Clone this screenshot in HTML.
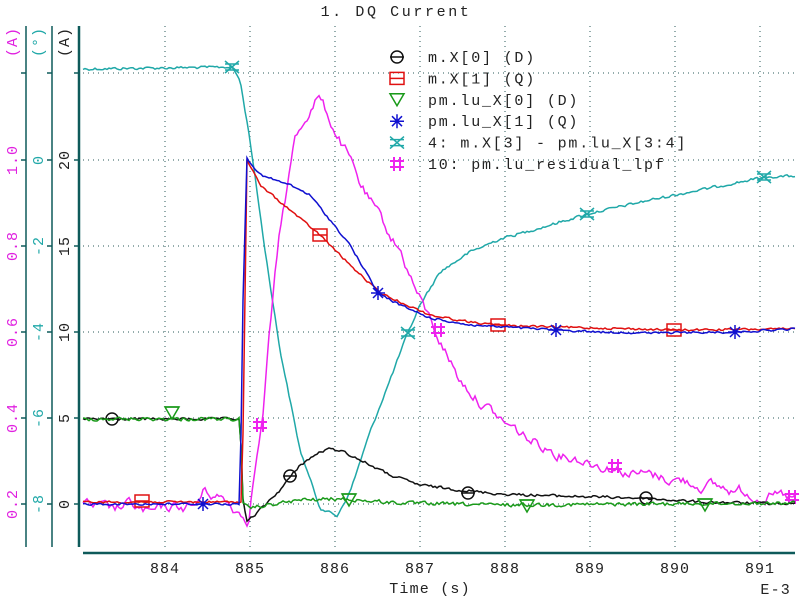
<!DOCTYPE html>
<html><head><meta charset="utf-8"><style>
body{margin:0;background:#fff}
svg{display:block;font-family:"Liberation Mono",monospace}
</style></head><body>
<svg id="s" width="800" height="600" viewBox="0 0 800 600" xmlns="http://www.w3.org/2000/svg">
<rect width="800" height="600" fill="#fff"/>
<text x="396" y="16" font-size="15" letter-spacing="2.6" text-anchor="middle" fill="#222">1. DQ Current</text>
<g id="grid" stroke="#2a5a5a" stroke-width="1" stroke-dasharray="1,4"></g>
<g stroke="#0e5a5a" fill="none">
<line x1="26" y1="26" x2="26" y2="547" stroke-width="1.5"/>
<line x1="52" y1="26" x2="52" y2="547" stroke-width="1.5"/>
<line x1="79" y1="26" x2="79" y2="547" stroke-width="2.5"/>
<line x1="83" y1="553" x2="795" y2="553" stroke-width="2.5"/>
</g>
<g id="ticks" stroke="#0e5a5a" stroke-width="1.5"></g>
<g id="labels" font-size="15" letter-spacing="1"></g>
<text x="430" y="593" font-size="15" letter-spacing="1.2" text-anchor="middle" fill="#222">Time (s)</text>
<text x="791" y="594" font-size="15" letter-spacing="1.2" text-anchor="end" fill="#222">E-3</text>
<g id="series" fill="none" stroke-width="1.5"></g>
<g id="legend" font-size="15" letter-spacing="1.8" fill="#222"></g>
</svg>
<script>
const NS="http://www.w3.org/2000/svg";
function el(p,t,a,txt){const e=document.createElementNS(NS,t);for(const k in a)e.setAttribute(k,a[k]);if(txt!==undefined)e.textContent=txt;p.appendChild(e);return e;}
const g=document.getElementById('grid'),tk=document.getElementById('ticks'),lb=document.getElementById('labels');
const ys=[73,160,246,332,418,504];
ys.forEach(y=>el(g,'line',{x1:83,y1:y,x2:795,y2:y}));
for(let i=0;i<8;i++){const x=165+i*85;el(g,'line',{x1:x,y1:26,x2:x,y2:547});
 el(lb,'text',{x:x,y:573,'text-anchor':'middle',fill:'#222'},String(884+i));}
const mag=['','1.0','0.8','0.6','0.4','0.2'],cy=['','0','-2','-4','-6','-8'],bk=['','20','15','10','5','0'];
ys.forEach((y,i)=>{
 el(tk,'line',{x1:21,y1:y,x2:26,y2:y});el(tk,'line',{x1:47,y1:y,x2:52,y2:y});el(tk,'line',{x1:74,y1:y,x2:79,y2:y});
 if(mag[i]){el(lb,'text',{transform:`translate(17,${y}) rotate(-90)`,'text-anchor':'middle',fill:'#e020e0'},mag[i]);
 el(lb,'text',{transform:`translate(43,${y}) rotate(-90)`,'text-anchor':'middle',fill:'#20a8a8'},cy[i]);
 el(lb,'text',{transform:`translate(69,${y}) rotate(-90)`,'text-anchor':'middle',fill:'#222'},bk[i]);}
});
el(lb,'text',{transform:'translate(17,42) rotate(-90)','text-anchor':'middle',fill:'#e020e0'},'(A)');
el(lb,'text',{transform:'translate(43,42) rotate(-90)','text-anchor':'middle',fill:'#20a8a8'},'(°)');
el(lb,'text',{transform:'translate(69,42) rotate(-90)','text-anchor':'middle',fill:'#222'},'(A)');
let seed=12345;function rnd(){seed=(seed*1103515245+12345)%2147483648;return seed/2147483648-0.5;}
function interp(pts,x){for(let i=1;i<pts.length;i++){if(x<=pts[i][0]){const a=pts[i-1],b=pts[i];return a[1]+(b[1]-a[1])*(x-a[0])/(b[0]-a[0]);}}return pts[pts.length-1][1];}
function build(pts,amp,step,smooth){let d='',n=0;for(let x=pts[0][0];x<=pts[pts.length-1][0];x+=step){n=n*smooth+rnd()*amp;const y=interp(pts,x)+n;d+=(d?'L':'M')+x.toFixed(1)+','+y.toFixed(1);}return d;}
const S=document.getElementById('series');
const data=[
 {c:'#20a8a8',m:'cx',amp:2.5,sm:0.3,pts:[[83,69],[232,67],[240,80],[250,140],[265,250],[280,350],[300,450],[320,508],[337,516],[350,492],[370,432],[390,380],[405,340],[420,305],[440,272],[470,252],[500,239],[540,228],[587,214],[650,200],[700,190],[765,177],[795,176]],mk:[[232,67],[408,333],[587,214],[764,177]]},
 {c:'#ee22ee',m:'hash',amp:9,sm:0.75,pts:[[83,505],[110,512],[130,505],[150,515],[170,508],[195,506],[205,490],[225,500],[240,512],[248,518],[255,465],[262,425],[270,330],[280,230],[295,140],[310,108],[318,95],[330,120],[345,150],[360,185],[380,220],[400,250],[420,300],[440,340],[460,380],[480,400],[500,420],[530,440],[560,452],[600,464],[640,474],[680,480],[720,488],[760,494],[795,500]],mk:[[260,425],[438,330],[615,466],[792,497]]},
 {c:'#111',m:'circ',amp:2.5,sm:0.3,pts:[[83,419],[240,419],[243,500],[247,522],[260,510],[280,490],[300,465],[320,452],[330,449],[340,450],[360,460],[390,475],[420,485],[460,490],[500,494],[560,496],[640,498],[700,502],[795,504]],mk:[[112,419],[290,476],[468,493],[646,498]]},
 {c:'#1a9a1a',m:'tri',amp:3.5,sm:0.3,pts:[[83,419],[240,419],[243,505],[250,508],[300,500],[340,499],[400,503],[500,505],[795,503]],mk:[[172,413],[349,500],[527,506],[705,505]]},
 {c:'#e01010',m:'sq',amp:2,sm:0.3,pts:[[83,502],[242,502],[247,160],[260,185],[290,210],[320,235],[350,265],[380,293],[400,302],[430,315],[470,322],[498,325],[550,327],[600,328],[674,330],[795,329]],mk:[[142,501],[320,235],[498,325],[674,330]]},
 {c:'#1010d0',m:'star',amp:2,sm:0.3,pts:[[83,504],[240,504],[243,300],[247,158],[260,175],[290,185],[310,195],[330,220],[350,245],[378,293],[400,305],[430,318],[470,325],[520,328],[556,330],[600,332],[650,333],[735,332],[795,329]],mk:[[203,504],[378,293],[556,330],[735,332]]}
];
function marker(p,type,x,y,c){const a={stroke:c,'stroke-width':1.5,fill:'none'};
 if(type==='circ')el(p,'circle',Object.assign({cx:x,cy:y,r:6},a)),el(p,'line',Object.assign({x1:x-7,y1:y,x2:x+7,y2:y},a));
 if(type==='sq')el(p,'rect',Object.assign({x:x-7,y:y-6,width:14,height:12},a)),el(p,'line',Object.assign({x1:x-7,y1:y,x2:x+7,y2:y},a));
 if(type==='tri')el(p,'path',Object.assign({d:`M${x-7},${y-6}H${x+7}L${x},${y+6}Z`},a)),el(p,'line',Object.assign({x1:x-7,y1:y-6,x2:x+7,y2:y-6},a));
 if(type==='star')el(p,'path',Object.assign({d:`M${x-7},${y}H${x+7}M${x},${y-7}V${y+7}M${x-5},${y-5}L${x+5},${y+5}M${x-5},${y+5}L${x+5},${y-5}`},a));
 if(type==='cx')el(p,'path',Object.assign({d:`M${x-7},${y-6}L${x+7},${y+6}M${x-7},${y+6}L${x+7},${y-6}M${x-7},${y-3}H${x+7}M${x-7},${y+3}H${x+7}`},a));
 if(type==='hash')el(p,'path',Object.assign({d:`M${x-3},${y-7}V${y+7}M${x+3},${y-7}V${y+7}M${x-7},${y-3}H${x+7}M${x-7},${y+3}H${x+7}`},Object.assign(a,{'stroke-width':2})));
}
data.forEach(s=>{el(S,'path',{d:build(s.pts,s.amp,2,s.sm),stroke:s.c});s.mk.forEach(m=>marker(S,s.m,m[0],m[1],s.c));});
const L=document.getElementById('legend');
const names=['m.X[0] (D)','m.X[1] (Q)','pm.lu_X[0] (D)','pm.lu_X[1] (Q)','4: m.X[3] - pm.lu_X[3:4]','10: pm.lu_residual_lpf'];
const order=[2,4,3,5,0,1];
names.forEach((n,i)=>{const y=57+i*21.4;const s=data[order[i]];marker(L,s.m,397,y,s.c);el(L,'text',{x:428,y:y+5},n);});
</script>
</body></html>
